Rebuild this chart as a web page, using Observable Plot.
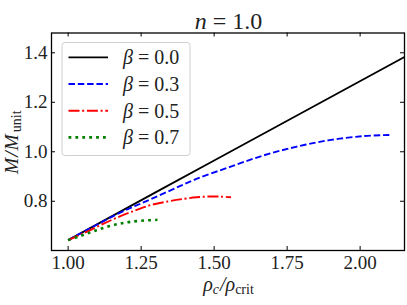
<!DOCTYPE html>
<html>
<head>
<meta charset="utf-8">
<script src="https://cdn.jsdelivr.net/npm/d3@7"></script>
<script src="https://cdn.jsdelivr.net/npm/@observablehq/plot@0.6"></script>
<style>
  html, body { margin: 0; padding: 0; background: #fff; }
  #chart svg, #chart svg text, #chart svg tspan { font-family: "Liberation Serif", "DejaVu Serif", serif !important; }
  #chart svg { display: block; }
</style>
</head>
<body>
<div id="chart"></div>
<script>
// ---- data ----
const betaValues = ["0.0", "0.3", "0.5", "0.7"];
const seriesColors = ["#000000", "#0000ff", "#ff0000", "#008000"];

const x_b00 = [1.0, 1.5, 2.152];
const m_b00 = [0.643, 0.965, 1.383];

const x_b03 = [1.0, 1.05, 1.1, 1.169, 1.23, 1.284, 1.36, 1.437, 1.552, 1.666, 1.78, 1.895, 2.009, 2.1];
const m_b03 = [0.643, 0.675, 0.706, 0.749, 0.781, 0.809, 0.849, 0.889, 0.938, 0.984, 1.020, 1.047, 1.063, 1.068];

const x_b05 = [1.0, 1.055, 1.11, 1.169, 1.23, 1.284, 1.34, 1.398, 1.44, 1.478, 1.52, 1.558];
const m_b05 = [0.643, 0.672, 0.703, 0.735, 0.763, 0.785, 0.799, 0.810, 0.816, 0.819, 0.819, 0.816];

const x_b07 = [1.0, 1.04, 1.078, 1.11, 1.146, 1.18, 1.215, 1.26, 1.306];
const m_b07 = [0.643, 0.659, 0.675, 0.688, 0.701, 0.710, 0.717, 0.722, 0.725];

const xTicks = [1.00, 1.25, 1.50, 1.75, 2.00];
const yTicks = [0.8, 1.0, 1.2, 1.4];
const xDomain = [0.943, 2.152];
const yDomain = [0.601, 1.48];

// ---- build rows ----
const xs = [x_b00, x_b03, x_b05, x_b07];
const ms = [m_b00, m_b03, m_b05, m_b07];
const series = betaValues.map((b, k) => xs[k].map((x, i) => ({beta: b, x, m: ms[k][i]})));

const styles = [
  {strokeWidth: 1.8, strokeDasharray: null},
  {strokeWidth: 1.9, strokeDasharray: "6.5,2.8"},
  {strokeWidth: 1.9, strokeDasharray: "11,2.7,2,2.7"},
  {strokeWidth: 2.6, strokeDasharray: "2.8,4.1"}
];

const FONT = "Liberation Serif, serif";
const W = 407, H = 305;
const mT = 32.5, mB = 55, mL = 51, mR = 3;
const fh = H - mT - mB, fw = W - mL - mR;
const tk = 4;

const lineMarks = series.map((data, k) => Plot.line(data, {
  x: "x", y: "m", stroke: seriesColors[k], strokeWidth: styles[k].strokeWidth,
  strokeDasharray: styles[k].strokeDasharray, strokeLinecap: "butt", strokeLinejoin: "round",
  curve: "catmull-rom", clip: true
}));

const plot = Plot.plot({
  width: W, height: H,
  marginTop: mT, marginBottom: mB, marginLeft: mL, marginRight: mR,
  style: {fontFamily: FONT, background: "#fff"},
  x: {domain: xDomain},
  y: {domain: yDomain},
  marks: [
    ...lineMarks,
    // inside ticks on all four sides
    Plot.ruleX(xTicks, {x: d => d, insetTop: fh - tk, stroke: "black", strokeWidth: 1}),
    Plot.ruleX(xTicks, {x: d => d, insetBottom: fh - tk, stroke: "black", strokeWidth: 1}),
    Plot.ruleY(yTicks, {y: d => d, insetRight: fw - tk, stroke: "black", strokeWidth: 1}),
    Plot.ruleY(yTicks, {y: d => d, insetLeft: fw - tk, stroke: "black", strokeWidth: 1}),
    Plot.axisX(xTicks, {tickSize: 0, tickPadding: 5, tickFormat: d3.format(".2f"), fontSize: 19, label: null, fill: "#222"}),
    Plot.axisY(yTicks, {tickSize: 0, tickPadding: 4, tickFormat: d3.format(".1f"), fontSize: 19, label: null, fill: "#222"}),
    Plot.frame({stroke: "black", strokeWidth: 1.3})
  ]
});

document.getElementById("chart").appendChild(plot);
const svg = d3.select(plot).attr("font-family", FONT);

function txt(sel) { return sel.append("text").attr("font-family", FONT).attr("fill", "#222"); }

// title
const title = txt(svg).attr("x", mL + fw / 2 + 1).attr("y", 29)
  .attr("text-anchor", "middle").attr("font-size", 24);
title.append("tspan").attr("font-style", "italic").text("n");
title.append("tspan").attr("dx", 6).text("=");
title.append("tspan").attr("dx", 6).text("1.0");

// x label
const xl = txt(svg).attr("x", mL + fw / 2 + 1).attr("y", 291)
  .attr("text-anchor", "middle").attr("font-size", 20);
xl.append("tspan").attr("font-style", "italic").text("ρ");
xl.append("tspan").attr("font-style", "italic").attr("font-size", 14).attr("dy", 3).text("c");
xl.append("tspan").attr("font-style", "italic").attr("dy", -3).attr("dx", 1).text("/ρ");
xl.append("tspan").attr("font-size", 14).attr("dy", 3).text("crit");

// y label
const yl = txt(svg).attr("transform", `translate(17.5,${mT + fh / 2 + 1}) rotate(-90)`)
  .attr("text-anchor", "middle").attr("font-size", 19.5);
yl.append("tspan").attr("font-style", "italic").attr("letter-spacing", 1).text("M/M");
yl.append("tspan").attr("font-size", 14).attr("dy", 3).attr("dx", 1).text("unit");

// legend
const lg = svg.append("g");
lg.append("rect").attr("x", 62).attr("y", 42.5).attr("width", 128).attr("height", 113)
  .attr("rx", 3).attr("fill", "white").attr("fill-opacity", 0.8)
  .attr("stroke", "#d0d0d0").attr("stroke-width", 1);
betaValues.forEach((b, k) => {
  const yy = 57.3 + k * 26.7;
  lg.append("line").attr("x1", 68.5).attr("x2", 108).attr("y1", yy).attr("y2", yy)
    .attr("stroke", seriesColors[k]).attr("stroke-width", styles[k].strokeWidth)
    .attr("stroke-dasharray", styles[k].strokeDasharray).attr("stroke-linecap", "butt");
  const t = txt(lg).attr("x", 123).attr("y", yy + 7).attr("font-size", 20).attr("text-anchor", "start");
  t.append("tspan").attr("font-style", "italic").text("β");
  t.append("tspan").attr("dx", 5).text("=");
  t.append("tspan").attr("dx", 5).text(b);
});
</script>
</body>
</html>
